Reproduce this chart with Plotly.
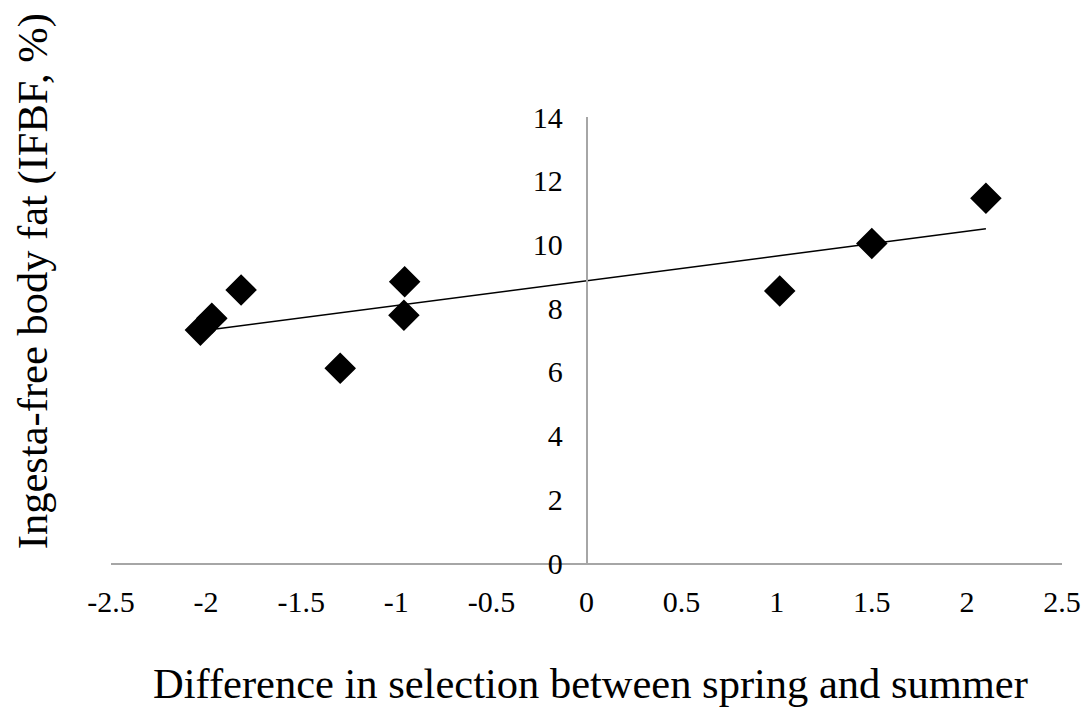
import numpy as np
import plotly.graph_objects as go

x_vals = [-2.03, -1.97, -1.816, -1.295, -0.956, -0.96, 1.016, 1.5, 2.1]
y_vals = [7.31, 7.68, 8.57, 6.11, 8.83, 7.78, 8.54, 10.03, 11.45]
x_ticks = [-2.5, -2, -1.5, -1, -0.5, 0, 0.5, 1, 1.5, 2, 2.5]
y_ticks = [0, 2, 4, 6, 8, 10, 12, 14]

slope, intercept = np.polyfit(x_vals, y_vals, 1)
tx = [min(x_vals), max(x_vals)]
ty = [slope * v + intercept for v in tx]

font = "Liberation Serif, Times New Roman, serif"

fig = go.Figure()
fig.add_trace(go.Scatter(x=tx, y=ty, mode="lines",
                         line=dict(color="black", width=1.5),
                         hoverinfo="skip", showlegend=False))
fig.add_trace(go.Scatter(x=x_vals, y=y_vals, mode="markers",
                         marker=dict(symbol="diamond", size=21, color="black",
                                     line=dict(color="black", width=3)),
                         showlegend=False))

fig.update_layout(
    width=1086, height=710,
    margin=dict(l=111, r=24, t=117, b=147, autoexpand=False),
    paper_bgcolor="white", plot_bgcolor="white",
    font=dict(family=font, size=30, color="black"),
    xaxis=dict(range=[-2.5, 2.5], tickvals=x_ticks,
               ticktext=[f"{v:g}" for v in x_ticks],
               showgrid=False, zeroline=False, showline=True,
               linecolor="#a6a6a6", linewidth=1.5, ticks="",
               automargin=False,
               ticklabelstandoff=11, tickfont=dict(size=30)),
    yaxis=dict(range=[0, 14], tickvals=y_ticks,
               showgrid=False, zeroline=False, showline=True,
               linecolor="#a6a6a6", linewidth=1.5, ticks="",
               anchor="free", position=0.5, automargin=False,
               ticklabelstandoff=17, tickfont=dict(size=30)),
    annotations=[
        dict(text="Difference in selection between spring and summer",
             xref="paper", yref="paper", x=0.504, y=-0.271,
             xanchor="center", yanchor="middle", showarrow=False,
             font=dict(size=42.5, family=font)),
        dict(text="Ingesta-free body fat (IFBF, %)",
             xref="paper", yref="paper", x=-0.082, y=0.632,
             xanchor="center", yanchor="middle", showarrow=False,
             textangle=-90, font=dict(size=42.5, family=font)),
    ],
)

fig.write_html("out.html", config={"displayModeBar": False},
               post_script="document.body.style.margin='0px';")
